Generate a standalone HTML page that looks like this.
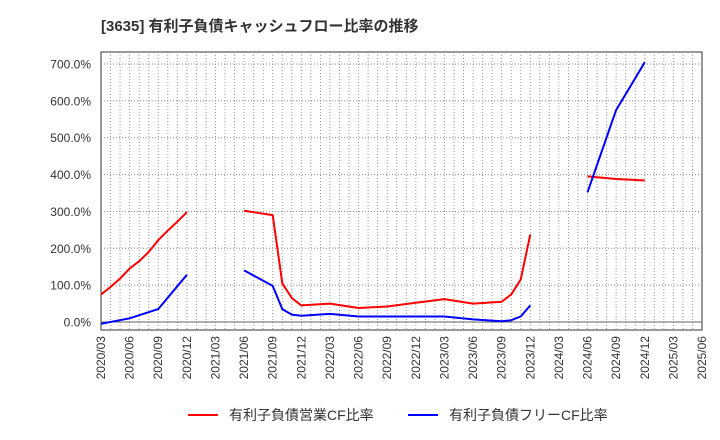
<!DOCTYPE html>
<html><head><meta charset="utf-8"><style>
body{margin:0;background:#fff;font-family:"Liberation Sans","Noto Sans CJK JP",sans-serif;}
svg{display:block}
</style></head><body>
<svg id="chart" width="720" height="440" xmlns="http://www.w3.org/2000/svg">
<text x="101" y="31" font-size="15" font-weight="bold" fill="#333" font-family="Liberation Sans,Noto Sans CJK JP,sans-serif">[3635]  有利子負債キャッシュフロー比率の推移</text>
<rect x="101" y="52" width="601" height="278" fill="#fff" stroke="#333"/>
<g id="grid"></g><g id="series"></g><g id="axes"></g>
<g font-size="14" fill="#333">
<line x1="188" y1="415" x2="218" y2="415" stroke="#f00" stroke-width="2"/>
<text x="229" y="420">有利子負債営業CF比率</text>
<line x1="408" y1="415" x2="438" y2="415" stroke="#00f" stroke-width="2"/>
<text x="449" y="420">有利子負債フリーCF比率</text>
</g>
</svg>
<script>
const xTickLabels=["2020/03","2020/06","2020/09","2020/12","2021/03","2021/06","2021/09","2021/12","2022/03","2022/06","2022/09","2022/12","2023/03","2023/06","2023/09","2023/12","2024/03","2024/06","2024/09","2024/12","2025/03","2025/06"];
const yTicks=[0,100,200,300,400,500,600,700];
// month index from 2020/03
const redMonths=[0,1,2,3,4,5,6,7,8,9,null,15,18,19,20,21,24,27,30,33,36,39,42,43,44,45,null,51,54,57];
const redValues=[75,95,118,145,165,190,222,248,272,298,null,302,290,105,65,45,50,38,42,52,62,50,55,75,115,238,null,395,388,384];
const blueMonths=[0,3,6,9,null,15,18,19,20,21,24,27,30,33,36,39,42,43,44,45,null,51,54,57];
const blueValues=[-5,10,35,128,null,140,98,35,20,17,22,15,15,15,15,7,2,5,15,45,null,352,575,705];
const X0=101,X1=702,Y0=52,Y1=330;
const xScale=m=>X0+m*(X1-X0)/63;
const yScale=v=>322-v*(322-64)/700;
const ns="http://www.w3.org/2000/svg";
function mk(tag,attrs,parent){const e=document.createElementNS(ns,tag);for(const k in attrs)e.setAttribute(k,attrs[k]);parent.appendChild(e);return e;}
const grid=document.getElementById('grid'),axes=document.getElementById('axes'),series=document.getElementById('series');
for(let m=1;m<63;m++){const l=mk('line',{x1:xScale(m),x2:xScale(m),y1:Y0,y2:Y1,stroke:'#999','stroke-dasharray':'1,2','stroke-width':1},grid);

}
yTicks.forEach(v=>{const y=yScale(v);
const l=mk('line',{x1:X0,x2:X1,y1:y,y2:y,stroke:v===0?'#666':'#888','stroke-dasharray':v===0?'':'1,2','stroke-width':1},grid);


const t=mk('text',{x:91,y:y+4.5,'text-anchor':'end','font-size':12,fill:'#333'},axes);t.textContent=v.toFixed(1)+'%';

});
xTickLabels.forEach((s,i)=>{const x=xScale(i*3);
const t=mk('text',{x:0,y:0,'text-anchor':'end','font-size':12,fill:'#333',transform:`translate(${x+4},${336}) rotate(-90)`},axes);t.textContent=s;

});
function draw(months,vals,color,name){let d='',pen=false;
months.forEach((m,i)=>{if(m===null||vals[i]===null){pen=false;return;}d+=(pen?'L':'M')+xScale(m).toFixed(1)+','+yScale(vals[i]).toFixed(1);pen=true;});
const p=mk('path',{d:d,fill:'none',stroke:color,'stroke-width':2,'stroke-linejoin':'round'},series);

}
draw(redMonths,redValues,'#f00','operating-cf-ratio-line');
draw(blueMonths,blueValues,'#00f','free-cf-ratio-line');
</script>
</body></html>
